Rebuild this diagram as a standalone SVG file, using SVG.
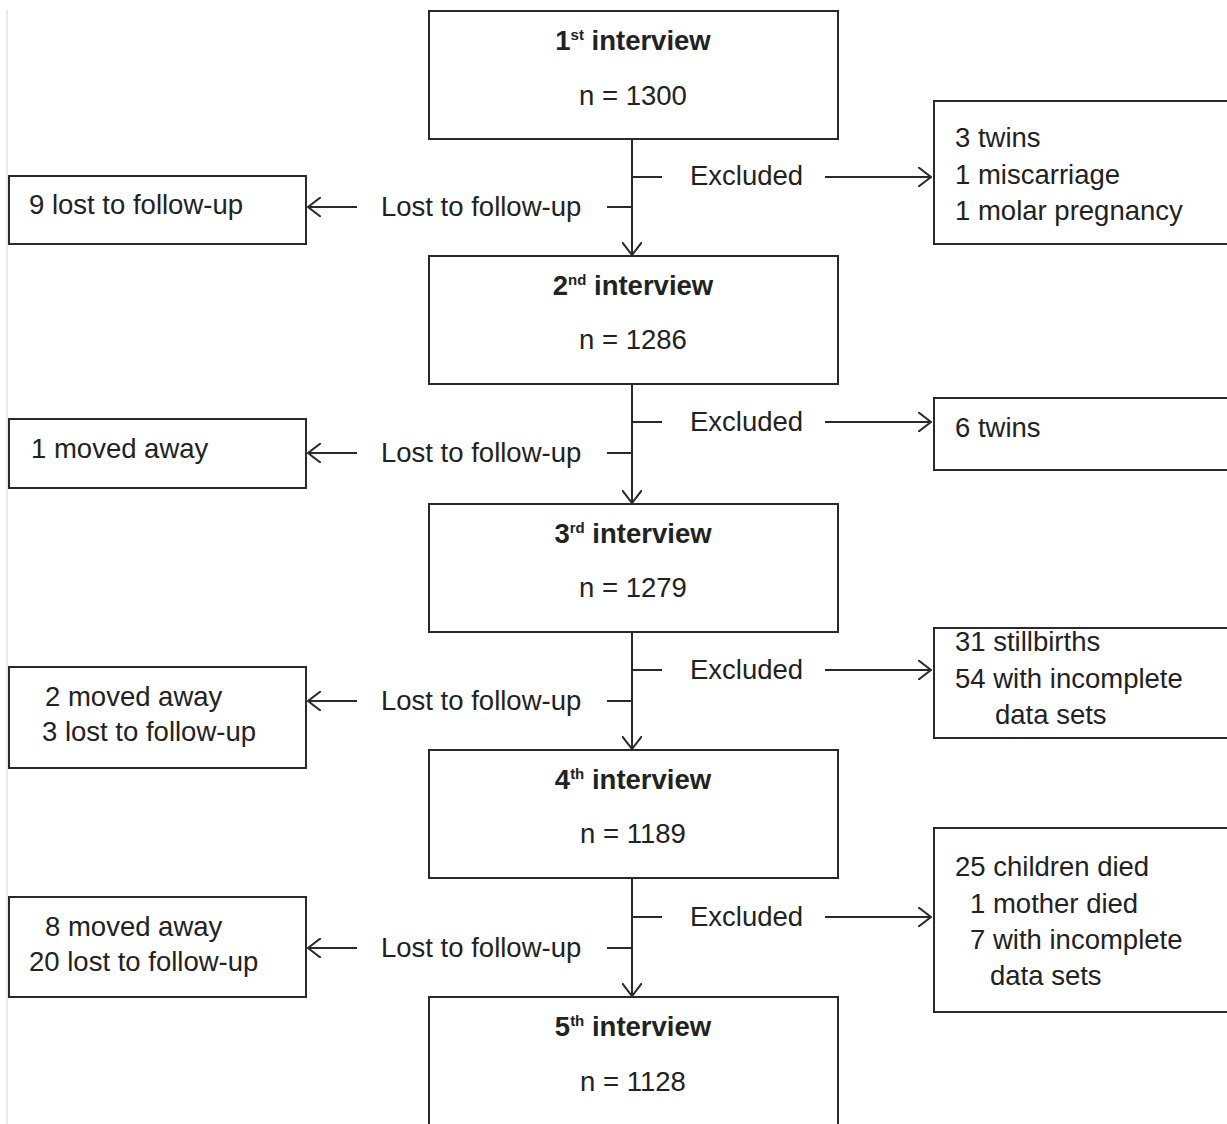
<svg xmlns="http://www.w3.org/2000/svg" width="1227" height="1124" viewBox="0 0 1227 1124">
<style>
  .box { fill: #fff; stroke: #2a2a2a; stroke-width: 2; }
  .ln { fill: none; stroke: #2a2a2a; stroke-width: 2; }
  text { font-family: "Liberation Sans", Arial, sans-serif; font-size: 27.5px; fill: #222; }
  .t { font-weight: bold; text-anchor: middle; }
  .c { text-anchor: middle; }
  .sup { font-size: 15px; }
</style>
<defs>
  <marker id="arr" viewBox="0 0 14 20" refX="13" refY="10" markerWidth="14" markerHeight="20" markerUnits="userSpaceOnUse" orient="auto">
    <path d="M0,0 L13,10 L0,20" fill="none" stroke="#2a2a2a" stroke-width="2"/>
  </marker>
</defs>
<rect width="1227" height="1124" fill="#fff"/>
<line x1="7" y1="10" x2="7" y2="1124" stroke="#e2e2e2" stroke-width="1.5"/>

<g id="connectors">
  <line class="ln" x1="632" y1="139" x2="632" y2="255" marker-end="url(#arr)"/>
  <line class="ln" x1="632" y1="177" x2="662" y2="177"/>
  <line class="ln" x1="825" y1="177" x2="931" y2="177" marker-end="url(#arr)"/>
  <line class="ln" x1="607" y1="207" x2="632" y2="207"/>
  <line class="ln" x1="357" y1="207" x2="308" y2="207" marker-end="url(#arr)"/>

  <line class="ln" x1="632" y1="384" x2="632" y2="503" marker-end="url(#arr)"/>
  <line class="ln" x1="632" y1="422" x2="662" y2="422"/>
  <line class="ln" x1="825" y1="422" x2="931" y2="422" marker-end="url(#arr)"/>
  <line class="ln" x1="607" y1="453" x2="632" y2="453"/>
  <line class="ln" x1="357" y1="453" x2="308" y2="453" marker-end="url(#arr)"/>

  <line class="ln" x1="632" y1="632" x2="632" y2="749" marker-end="url(#arr)"/>
  <line class="ln" x1="632" y1="670" x2="662" y2="670"/>
  <line class="ln" x1="825" y1="670" x2="931" y2="670" marker-end="url(#arr)"/>
  <line class="ln" x1="607" y1="701" x2="632" y2="701"/>
  <line class="ln" x1="357" y1="701" x2="308" y2="701" marker-end="url(#arr)"/>

  <line class="ln" x1="632" y1="878" x2="632" y2="996" marker-end="url(#arr)"/>
  <line class="ln" x1="632" y1="917" x2="662" y2="917"/>
  <line class="ln" x1="825" y1="917" x2="931" y2="917" marker-end="url(#arr)"/>
  <line class="ln" x1="607" y1="948" x2="632" y2="948"/>
  <line class="ln" x1="357" y1="948" x2="308" y2="948" marker-end="url(#arr)"/>

  <text x="690" y="185">Excluded</text>
  <text x="381" y="216">Lost to follow-up</text>
  <text x="690" y="431">Excluded</text>
  <text x="381" y="462">Lost to follow-up</text>
  <text x="690" y="679">Excluded</text>
  <text x="381" y="710">Lost to follow-up</text>
  <text x="690" y="926">Excluded</text>
  <text x="381" y="957">Lost to follow-up</text>
</g>

<g id="interview1">
  <rect class="box" x="429" y="11" width="409" height="128"/>
  <text class="t" x="633" y="50">1<tspan class="sup" dy="-10">st</tspan><tspan dy="10"> interview</tspan></text>
  <text class="c" x="633" y="105">n = 1300</text>
</g>
<g id="interview2">
  <rect class="box" x="429" y="256" width="409" height="128"/>
  <text class="t" x="633" y="295">2<tspan class="sup" dy="-10">nd</tspan><tspan dy="10"> interview</tspan></text>
  <text class="c" x="633" y="349">n = 1286</text>
</g>
<g id="interview3">
  <rect class="box" x="429" y="504" width="409" height="128"/>
  <text class="t" x="633" y="543">3<tspan class="sup" dy="-10">rd</tspan><tspan dy="10"> interview</tspan></text>
  <text class="c" x="633" y="597">n = 1279</text>
</g>
<g id="interview4">
  <rect class="box" x="429" y="750" width="409" height="128"/>
  <text class="t" x="633" y="789">4<tspan class="sup" dy="-10">th</tspan><tspan dy="10"> interview</tspan></text>
  <text class="c" x="633" y="843">n = 1189</text>
</g>
<g id="interview5">
  <rect class="box" x="429" y="997" width="409" height="140"/>
  <text class="t" x="633" y="1036">5<tspan class="sup" dy="-10">th</tspan><tspan dy="10"> interview</tspan></text>
  <text class="c" x="633" y="1091">n = 1128</text>
</g>

<g id="lost1">
  <rect class="box" x="9" y="176" width="297" height="68"/>
  <text x="29" y="214">9 lost to follow-up</text>
</g>
<g id="lost2">
  <rect class="box" x="9" y="419" width="297" height="69"/>
  <text x="31" y="458">1 moved away</text>
</g>
<g id="lost3">
  <rect class="box" x="9" y="667" width="297" height="101"/>
  <text x="45" y="706">2 moved away</text>
  <text x="42" y="741">3 lost to follow-up</text>
</g>
<g id="lost4">
  <rect class="box" x="9" y="897" width="297" height="100"/>
  <text x="45" y="936">8 moved away</text>
  <text x="29" y="971">20 lost to follow-up</text>
</g>

<g id="excl1">
  <rect class="box" x="934" y="101" width="310" height="143"/>
  <text x="955" y="147">3 twins</text>
  <text x="955" y="184">1 miscarriage</text>
  <text x="955" y="220">1 molar pregnancy</text>
</g>
<g id="excl2">
  <rect class="box" x="934" y="398" width="310" height="72"/>
  <text x="955" y="437">6 twins</text>
</g>
<g id="excl3">
  <rect class="box" x="934" y="628" width="310" height="110"/>
  <text x="955" y="651">31 stillbirths</text>
  <text x="955" y="688">54 with incomplete</text>
  <text x="995" y="724">data sets</text>
</g>
<g id="excl4">
  <rect class="box" x="934" y="828" width="310" height="184"/>
  <text x="955" y="876">25 children died</text>
  <text x="970" y="913">1 mother died</text>
  <text x="970" y="949">7 with incomplete</text>
  <text x="990" y="985">data sets</text>
</g>
</svg>
